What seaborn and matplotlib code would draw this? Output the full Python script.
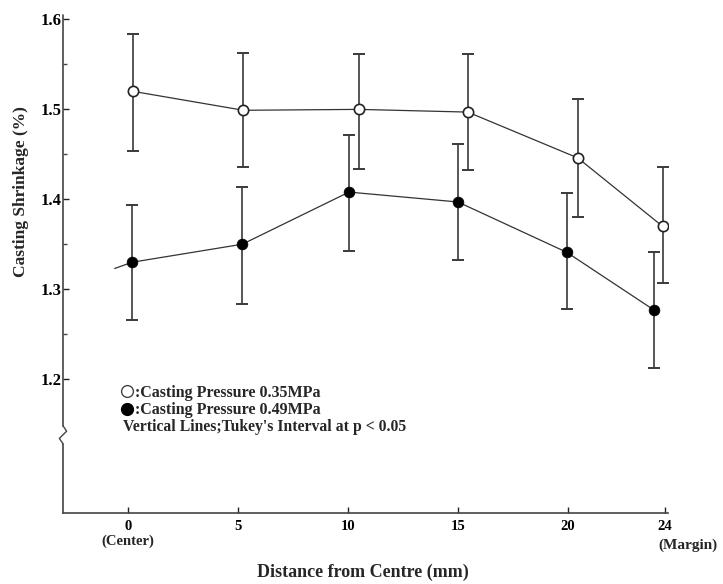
import numpy as np
import pandas as pd
import matplotlib
matplotlib.use("Agg")
import matplotlib.pyplot as plt
import matplotlib.transforms as mtransforms
from matplotlib.lines import Line2D
import seaborn as sns

# ---- data ----
open_x = [0.25, 5.25, 10.5, 15.45, 20.45, 24.3]
open_y = [1.520, 1.499, 1.500, 1.497, 1.446, 1.370]
open_hi = [1.584, 1.563, 1.562, 1.562, 1.511, 1.436]
open_lo = [1.454, 1.436, 1.434, 1.433, 1.380, 1.307]

filled_x = [0.2, 5.2, 10.05, 15.0, 19.95, 23.9]
filled_y = [1.330, 1.350, 1.408, 1.397, 1.341, 1.277]
filled_hi = [1.394, 1.414, 1.472, 1.462, 1.407, 1.341]
filled_lo = [1.266, 1.283, 1.343, 1.332, 1.278, 1.212]
# the line of the 0.49MPa series starts a little left of the first point
filled_line_start_x = [-0.6]
filled_line_start_y = [1.323]

x_ticks = [0, 5, 10, 15, 20, 24.4]
x_ticklabels = ["0", "5", "10", "15", "20", "24"]
y_ticks = [1.2, 1.3, 1.4, 1.5, 1.6]
y_ticklabels = ["1.2", "1.3", "1.4", "1.5", "1.6"]
y_minor = [1.25, 1.35, 1.45, 1.55]

legend_labels = [":Casting Pressure 0.35MPa", ":Casting Pressure 0.49MPa"]
note_text = "Vertical Lines;Tukey's Interval at p < 0.05"

sns.set_theme(style="white")
plt.rcParams["font.family"] = ["Liberation Serif", "DejaVu Serif"]
plt.rcParams["font.weight"] = "bold"

fig = plt.figure(figsize=(7.23, 5.84), dpi=100)
ax = fig.add_axes([63 / 723, 1 - 513 / 584, (668 - 63) / 723, (513 - 15) / 584])

line_col = "#333333"
bar_col = "#3a3a3a"

df_open = pd.DataFrame({"x": open_x, "y": open_y})
df_fill = pd.DataFrame({"x": filled_line_start_x + filled_x,
                        "y": filled_line_start_y + filled_y})

# connecting lines
sns.lineplot(data=df_open, x="x", y="y", ax=ax, color=line_col, lw=0.9,
             sort=False, estimator=None, zorder=2)
sns.lineplot(data=df_fill, x="x", y="y", ax=ax, color=line_col, lw=0.9,
             sort=False, estimator=None, zorder=2)

# error bars (Tukey's interval)
ax.errorbar(open_x, open_y,
            yerr=[np.subtract(open_y, open_lo), np.subtract(open_hi, open_y)],
            fmt="none", ecolor=bar_col, elinewidth=1.2, capsize=4, capthick=1.4, zorder=1)
ax.errorbar(filled_x, filled_y,
            yerr=[np.subtract(filled_y, filled_lo), np.subtract(filled_hi, filled_y)],
            fmt="none", ecolor=bar_col, elinewidth=1.2, capsize=4, capthick=1.4, zorder=1)

# markers
sns.scatterplot(x=open_x, y=open_y, ax=ax, marker="o", s=55, facecolor="white",
                edgecolor="#222222", linewidth=1.2, zorder=4)
sns.scatterplot(x=filled_x, y=filled_y, ax=ax, marker="o", s=60, color="black",
                edgecolor="black", linewidth=0.5, zorder=4)

ax.set_xlim(-2.95, 24.55)
ax.set_ylim(1.051, 1.605)

# spines
for s in ["top", "right"]:
    ax.spines[s].set_visible(False)
ax.spines["left"].set_visible(False)
ax.spines["bottom"].set_color("#444444")
ax.spines["bottom"].set_linewidth(1.2)

# left spine drawn with a break
trans = mtransforms.blended_transform_factory(ax.transAxes, ax.transData)
brk_top, brk_bot = 1.148, 1.128
ax.plot([0, 0], [1.605, brk_top], transform=trans, color="#444444", lw=1.2, clip_on=False)
ax.plot([0, 0.006, -0.006, 0], [brk_top, 1.142, 1.134, brk_bot], transform=trans,
        color="#444444", lw=1.0, clip_on=False)
ax.plot([0, 0], [brk_bot, 1.051], transform=trans, color="#444444", lw=1.2, clip_on=False)

ax.set_xticks(x_ticks)
ax.set_xticklabels(x_ticklabels)
ax.set_yticks(y_ticks)
ax.set_yticklabels(y_ticklabels)
ax.set_yticks(y_minor, minor=True)
ax.tick_params(axis="both", which="major", direction="in", length=4, width=1.0,
               colors="#222222")
ax.tick_params(axis="x", which="major", labelsize=10.5, pad=5, bottom=True)
ax.tick_params(axis="y", which="major", labelsize=12, pad=1, left=True)
ax.tick_params(axis="y", which="minor", direction="in", length=3, width=1.0,
               left=True, colors="#444444")
for lab in ax.get_xticklabels() + ax.get_yticklabels():
    lab.set_fontweight("bold")
    lab.set_color("black")

# x tick sub-labels
bt = mtransforms.blended_transform_factory(ax.transData, ax.transAxes)
ax.text(0, -0.043, "(Center)", transform=bt, ha="center", va="top",
        fontsize=10.5, fontweight="bold")
ax.text(25.45, -0.052, "(Margin)", transform=bt, ha="center", va="top",
        fontsize=11, fontweight="bold")

ax.set_xlabel("Distance from Centre (mm)", fontsize=13, fontweight="bold")
ax.xaxis.set_label_coords((363 - 63) / 605, (513 - 564) / 498)
ax.set_ylabel("Casting Shrinkage (%)", fontsize=12.5, fontweight="bold")
ax.yaxis.set_label_coords((29 - 63) / 605, (513 - 192) / 498)

# legend
handles = [Line2D([], [], marker="o", ls="none", markersize=8.5, markerfacecolor="white",
                  markeredgecolor="#444444", markeredgewidth=1.0),
           Line2D([], [], marker="o", ls="none", markersize=8.5, markerfacecolor="black",
                  markeredgecolor="black")]
leg = ax.legend(handles, legend_labels, loc="upper left",
                bbox_to_anchor=((119 - 63) / 605, (513 - 385) / 498),
                frameon=False, handletextpad=0.0, handlelength=1.0, labelspacing=0.08,
                borderaxespad=0, borderpad=0,
                prop={"family": "Liberation Serif", "weight": "bold", "size": 11.5})
ax.text((123 - 63) / 605, (513 - 427) / 498, note_text, transform=ax.transAxes,
        ha="left", va="center", fontsize=11.3, fontweight="bold")

fig.savefig("out.png", dpi=100, facecolor="white")
